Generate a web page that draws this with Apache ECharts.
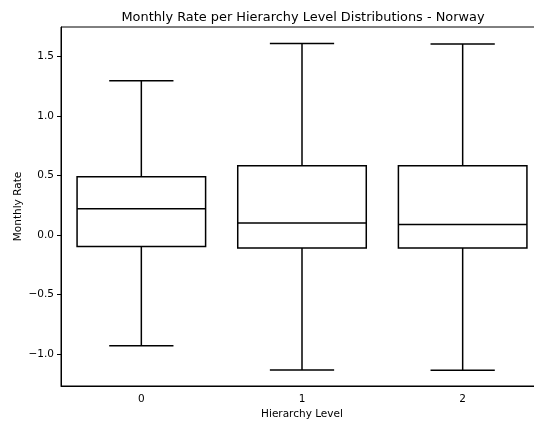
<!DOCTYPE html>
<html>
<head>
<meta charset="utf-8">
<script src="https://cdn.jsdelivr.net/npm/echarts@6/dist/echarts.min.js"></script>
<style>html,body{margin:0;padding:0;background:#fff;overflow:hidden;width:534px;height:425px;}#c{width:560px;height:425px;}</style>
</head>
<body>
<div id="c"></div>
<script>
const categories = ['0', '1', '2'];
const whiskerLow = [-0.930, -1.132, -1.134];
const q1Values = [-0.096, -0.107, -0.107];
const medians = [0.221, 0.102, 0.089];
const q3Values = [0.490, 0.582, 0.582];
const whiskerHigh = [1.297, 1.610, 1.605];
const yTicks = [-1.0, -0.5, 0.0, 0.5, 1.0, 1.5];

const FONT = 'DejaVu Sans';
const data = categories.map((c, i) => [i, whiskerLow[i], q1Values[i], medians[i], q3Values[i], whiskerHigh[i]]);

function fmt(v) {
  const s = Math.abs(v) < 1e-9 ? '0.0' : v.toFixed(1);
  return s.replace('-', '\u2212');
}

const chart = echarts.init(document.getElementById('c'), null, {renderer: 'canvas'});
chart.setOption({
  animation: false,
  backgroundColor: '#ffffff',
  title: {
    text: 'Monthly Rate per Hierarchy Level Distributions - Norway',
    left: 298, textAlign: 'center', top: 6,
    textStyle: {fontFamily: FONT, fontSize: 12.9, fontWeight: 'normal', color: '#000'}
  },
  grid: {left: 61, top: 27, width: 482, height: 359, show: true, borderColor: '#000', borderWidth: 1, backgroundColor: 'transparent'},
  xAxis: {
    type: 'category', data: categories, boundaryGap: true,
    name: 'Hierarchy Level', nameLocation: 'middle', nameGap: 23, nameMoveOverlap: false,
    nameTextStyle: {fontFamily: FONT, fontSize: 10.5, color: '#000'},
    axisLine: {onZero: false, lineStyle: {color: '#000', width: 1}},
    axisTick: {alignWithLabel: true, length: 4, lineStyle: {color: '#000'}},
    axisLabel: {fontFamily: FONT, fontSize: 10.5, color: '#000', margin: 8},
    splitLine: {show: false}
  },
  yAxis: {
    type: 'value', min: -1.267, max: 1.748,
    name: 'Monthly Rate', nameLocation: 'middle', nameGap: 37, nameRotate: 90, nameMoveOverlap: false,
    nameTextStyle: {fontFamily: FONT, fontSize: 10.5, color: '#000'},
    axisLine: {show: true, onZero: false, lineStyle: {color: '#000', width: 1}},
    axisTick: {show: true, length: 4, lineStyle: {color: '#000'}, customValues: yTicks},
    axisLabel: {fontFamily: FONT, fontSize: 10.5, color: '#000', margin: 7, customValues: yTicks, formatter: fmt},
    splitLine: {show: false}
  },
  series: [{
    type: 'custom',
    data: data,
    encode: {x: 0, y: [1, 2, 3, 4, 5]},
    renderItem: function (params, api) {
      const idx = api.value(0);
      const band = api.size([1, 0])[0];
      const bw = band * 0.8, cw = band * 0.4;
      const pLow = api.coord([idx, api.value(1)]);
      const pQ1 = api.coord([idx, api.value(2)]);
      const pMed = api.coord([idx, api.value(3)]);
      const pQ3 = api.coord([idx, api.value(4)]);
      const pHigh = api.coord([idx, api.value(5)]);
      const x = pQ1[0];
      const st = {stroke: '#000', lineWidth: 1.5, fill: null};
      return {
        type: 'group',
        children: [
          {type: 'line', shape: {x1: x, y1: pQ1[1], x2: x, y2: pLow[1]}, style: st},
          {type: 'line', shape: {x1: x, y1: pQ3[1], x2: x, y2: pHigh[1]}, style: st},
          {type: 'line', shape: {x1: x - cw / 2, y1: pLow[1], x2: x + cw / 2, y2: pLow[1]}, style: st},
          {type: 'line', shape: {x1: x - cw / 2, y1: pHigh[1], x2: x + cw / 2, y2: pHigh[1]}, style: st},
          {type: 'rect', shape: {x: x - bw / 2, y: pQ3[1], width: bw, height: pQ1[1] - pQ3[1]}, style: {stroke: '#000', lineWidth: 1.5, fill: '#fff'}},
          {type: 'line', shape: {x1: x - bw / 2, y1: pMed[1], x2: x + bw / 2, y2: pMed[1]}, style: st}
        ]
      };
    }
  }]
});
</script>
</body>
</html>
